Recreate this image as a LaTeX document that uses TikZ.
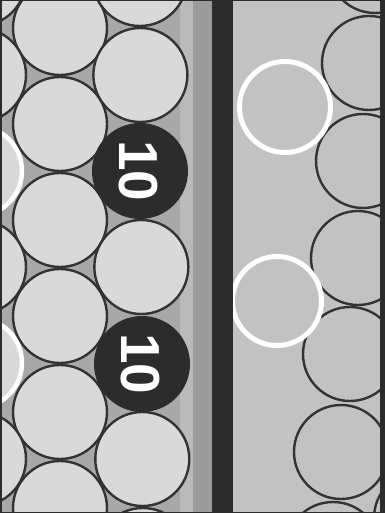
\documentclass[tikz,border=0pt]{standalone}
\usepackage{fontspec}
\setmainfont{Liberation Sans}
\usepackage{tikz}

\definecolor{gapgray}{HTML}{A8A8A8}
\definecolor{discgray}{HTML}{D9D9D9}
\definecolor{rimgray}{HTML}{333333}
\definecolor{stripgray}{HTML}{BABABA}
\definecolor{bandgray}{HTML}{9B9B9B}
\definecolor{bargray}{HTML}{2C2C2C}
\definecolor{fieldgray}{HTML}{C2C2C2}

\begin{document}
\begin{tikzpicture}[
      x=1pt, y=-1pt,
      disc/.style={fill=discgray, draw=rimgray, line width=2.4pt},
      ghost/.style={fill=discgray, draw=white, line width=4.5pt},
      rightdisc/.style={fill=fieldgray, draw=rimgray, line width=2.4pt},
      rightghost/.style={draw=white, line width=5pt},
      chip/.style={circle, fill=bargray, minimum size=96pt, inner sep=0pt},
      chiplabel/.style={text=white, rotate=-90, font=\fontsize{55}{55}\selectfont\bfseries}
    ]
    \useasboundingbox (0,0) rectangle (384,513);

    % left panel
    \fill[gapgray] (0,0) rectangle (193,513);
    \fill[stripgray] (180,0) rectangle (193,513);
    \begin{scope}
      \clip (0,0) rectangle (193,513);
      \foreach \y in {28,124,220,316,412,508}
        \draw[disc] (60,\y) circle (47);
      \foreach \y in {-21,75,267,459,555}
        \draw[disc] ({140+\y/200},\y) circle (47);
      \foreach \y in {-21,75,267,459,555}
        \draw[disc] (-21,\y) circle (47);
      \foreach \y in {171,363}
        \draw[ghost] (-23,\y) circle (45);
    \end{scope}

    \node[chip] (chipA) at (140,171) {};
    \node[chip] (chipB) at (142,364) {};
    \node[chiplabel] (labelA) at (138,171) {10};
    \node[chiplabel] (labelB) at (140,364) {10};

    % band and bar
    \fill[bandgray] (193,0) rectangle (212,513);
    \fill[bargray] (212,0) rectangle (233,513);

    % right panel
    \fill[fieldgray] (233,0) rectangle (380,513);
    \begin{scope}
      \clip (233,0) rectangle (380,513);
      \foreach \cx/\cy in {375/-34,369/63,363/161,358/258,350/354,341/452,333/549,421/518}
        \draw[rightdisc] (\cx,\cy) circle (47);
      \draw[rightghost] (285,107) circle (45.5);
      \draw[rightghost] (277,301) circle (44.5);
    \end{scope}

    % frame
    \fill[bargray] (380,0) rectangle (384,513);
    \draw[bargray, line width=3pt] (0,0) rectangle (384,513);
  \end{tikzpicture}
\end{document}
